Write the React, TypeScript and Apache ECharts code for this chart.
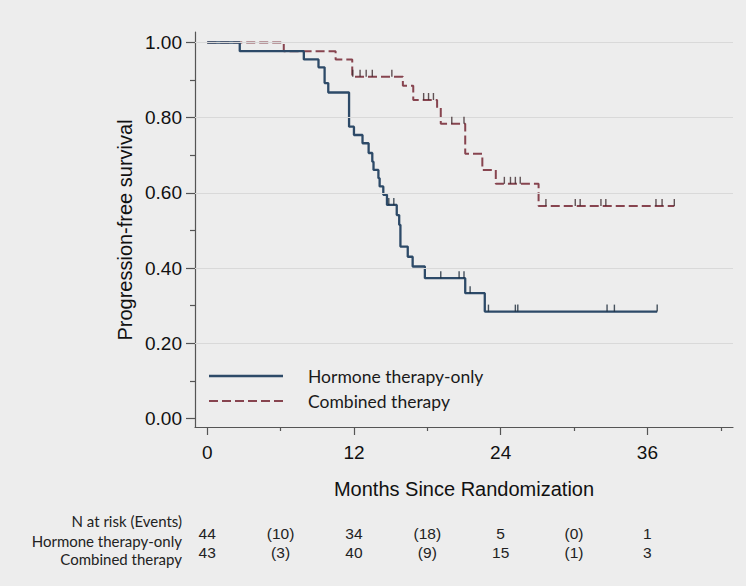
import React, { useEffect, useRef } from "react";
import * as echarts from "echarts";

// ---- data ----
const seriesNames = ["Hormone therapy-only", "Combined therapy"];

const hormoneTimes = [0, 2.66, 7.9, 9.1, 9.6, 9.9, 11.6, 12.0, 12.7, 13.2, 13.5, 13.6, 14.0, 14.1, 14.4, 14.7, 15.5, 15.7, 15.8, 16.4, 16.8, 17.8, 21.1, 22.7, 36.8];
const hormoneSurv = [1, 0.977, 0.955, 0.934, 0.892, 0.867, 0.776, 0.754, 0.732, 0.706, 0.683, 0.661, 0.639, 0.617, 0.595, 0.568, 0.541, 0.515, 0.457, 0.43, 0.404, 0.373, 0.333, 0.284, 0.284];
const hormoneCensor = [14.85, 15.26, 19.1, 20.6, 21.0, 21.5, 23.0, 25.2, 25.4, 32.7, 33.3, 36.8];

const combinedTimes = [0, 6.26, 10.5, 11.86, 16.0, 16.85, 18.8, 19.1, 21.1, 22.5, 23.6, 27.1, 38.2];
const combinedSurv = [1, 0.977, 0.955, 0.909, 0.885, 0.847, 0.826, 0.784, 0.704, 0.661, 0.624, 0.565, 0.565];
const combinedCensor = [11.9, 12.5, 13.0, 13.5, 15.1, 17.7, 18.1, 18.5, 20.0, 21.0, 24.3, 24.8, 25.2, 25.6, 27.7, 30.1, 30.5, 32.2, 32.6, 36.7, 37.2, 38.2];

const xMajorTicks = [0, 12, 24, 36];
const xMinorTicks = [6, 18, 30, 42];
const yMajorTicks = [0, 0.2, 0.4, 0.6, 0.8, 1.0];
const yMinorTicks = [0.1, 0.3, 0.5, 0.7, 0.9];
const gridValues = [0.2, 0.4, 0.6, 0.8, 1.0];

const xTitle = "Months Since Randomization";
const yTitle = "Progression-free survival";

const riskHeader = "N at risk (Events)";
const riskTimes = [0, 6, 12, 18, 24, 30, 36];
const hormoneRisk = ["44", "(10)", "34", "(18)", "5", "(0)", "1"];
const combinedRisk = ["43", "(3)", "40", "(9)", "15", "(1)", "3"];

// ---- styles ----
const BLUE = "#2d4a68";
const RED = "#87444f";
const AXIS = "#555555";
const SANS = "'Liberation Sans', Arial, sans-serif";
const CAL = "Lato, 'Open Sans', sans-serif";

function survAt(times: number[], surv: number[], t: number) {
  let s = surv[0];
  for (let i = 0; i < times.length; i++) {
    if (times[i] <= t) s = surv[i];
  }
  return s;
}

export default function App() {
  const ref = useRef<HTMLDivElement>(null);

  useEffect(() => {
    document.body.style.margin = "0";
    const chart = echarts.init(ref.current!, undefined, { renderer: "svg" });

    const hormoneData = hormoneTimes.map((t, i) => [t, hormoneSurv[i]]);
    const combinedData = combinedTimes.map((t, i) => [t, combinedSurv[i]]);
    const hormoneTicks = hormoneCensor.map((t) => [t, survAt(hormoneTimes, hormoneSurv, t)]);
    const combinedTicks = combinedCensor.map((t) => [t, survAt(combinedTimes, combinedSurv, t)]);

    const option: any = {
      animation: false,
      backgroundColor: "#ededed",
      grid: { left: 195, top: 32, width: 538, height: 395 },
      xAxis: [
        {
          type: "value",
          min: -1,
          max: 43,
          position: "bottom",
          axisLine: { show: true, onZero: false, lineStyle: { color: AXIS, width: 1.2 } },
          axisTick: { show: true, customValues: xMajorTicks, length: 8, lineStyle: { color: AXIS, width: 1.2 } },
          axisLabel: {
            customValues: xMajorTicks,
            margin: 16,
            fontSize: 19,
            color: "#111",
            fontFamily: SANS,
          },
          splitLine: { show: false },
        },
        {
          type: "value",
          min: -1,
          max: 43,
          position: "bottom",
          offset: 0,
          axisLine: { show: false, onZero: false },
          axisTick: { show: true, customValues: xMinorTicks, length: 4, lineStyle: { color: AXIS, width: 1.2 } },
          axisLabel: { show: false },
          splitLine: { show: false },
        },
      ],
      yAxis: [
        {
          type: "value",
          min: -0.023,
          max: 1.028,
          position: "left",
          axisLine: { show: true, onZero: false, lineStyle: { color: AXIS, width: 1.2 } },
          axisTick: { show: true, customValues: yMajorTicks, length: 9, lineStyle: { color: AXIS, width: 1.2 } },
          axisLabel: {
            customValues: yMajorTicks,
            margin: 13,
            fontSize: 19,
            color: "#111",
            fontFamily: SANS,
            formatter: (v: number) => v.toFixed(2),
          },
          splitLine: { show: false },
        },
        {
          type: "value",
          min: -0.023,
          max: 1.028,
          position: "left",
          offset: 0,
          axisLine: { show: false, onZero: false },
          axisTick: { show: true, customValues: yMinorTicks, length: 5, lineStyle: { color: AXIS, width: 1.2 } },
          axisLabel: { show: false },
          splitLine: { show: false },
        },
      ],
      series: [
        {
          type: "line",
          name: "gridlines",
          data: [],
          z: 1,
          silent: true,
          markLine: {
            silent: true,
            symbol: "none",
            label: { show: false },
            lineStyle: { color: "#d9d9d9", type: "solid", width: 1.2 },
            data: gridValues.map((v) => ({ yAxis: v })),
          },
        },
        {
          type: "line",
          name: seriesNames[1],
          step: "end",
          data: combinedData,
          showSymbol: false,
          symbol: "none",
          z: 3,
          lineStyle: { color: RED, width: 2, type: [9, 4] },
        },
        {
          type: "line",
          name: seriesNames[0],
          step: "end",
          data: hormoneData,
          showSymbol: false,
          symbol: "none",
          z: 4,
          lineStyle: { color: BLUE, width: 2.3 },
        },
        {
          type: "scatter",
          name: seriesNames[0] + " censored",
          data: hormoneTicks,
          symbol: "rect",
          symbolSize: [1.4, 7],
          symbolOffset: [0, -3.5],
          itemStyle: { color: "#1c2b3a" },
          z: 5,
          silent: true,
        },
        {
          type: "scatter",
          name: seriesNames[1] + " censored",
          data: combinedTicks,
          symbol: "rect",
          symbolSize: [1.4, 7],
          symbolOffset: [0, -3.5],
          itemStyle: { color: "#3d2b2e" },
          z: 5,
          silent: true,
        },
      ],
    };
    chart.setOption(option);

    const px = (t: number) => chart.convertToPixel({ xAxisIndex: 0 }, t) as number;

    const graphics: any[] = [
      {
        type: "text",
        x: 125,
        y: 230,
        rotation: Math.PI / 2,
        style: { text: yTitle, fontSize: 20, fontFamily: SANS, fill: "#111", textAlign: "center", textVerticalAlign: "middle" },
      },
      {
        type: "text",
        x: 464,
        y: 489,
        style: { text: xTitle, fontSize: 20, fontFamily: SANS, fill: "#111", textAlign: "center", textVerticalAlign: "middle" },
      },
      // legend
      { type: "line", shape: { x1: 209, y1: 376, x2: 283, y2: 376 }, style: { stroke: BLUE, lineWidth: 2.3 } },
      { type: "line", shape: { x1: 209, y1: 401, x2: 283, y2: 401 }, style: { stroke: RED, lineWidth: 2, lineDash: [9, 4] } },
      { type: "text", x: 308, y: 376, style: { text: seriesNames[0], fontSize: 17.5, fontFamily: CAL, fill: "#1a1a1a", textVerticalAlign: "middle" } },
      { type: "text", x: 308, y: 401, style: { text: seriesNames[1], fontSize: 17.5, fontFamily: CAL, fill: "#1a1a1a", textVerticalAlign: "middle" } },
      // risk table labels
      { type: "text", x: 182, y: 521, style: { text: riskHeader, fontSize: 15, fontFamily: CAL, fill: "#222", textAlign: "right", textVerticalAlign: "middle" } },
      { type: "text", x: 182, y: 541, style: { text: seriesNames[0], fontSize: 15, fontFamily: CAL, fill: "#222", textAlign: "right", textVerticalAlign: "middle" } },
      { type: "text", x: 182, y: 559, style: { text: seriesNames[1], fontSize: 15, fontFamily: CAL, fill: "#222", textAlign: "right", textVerticalAlign: "middle" } },
    ];
    riskTimes.forEach((t, i) => {
      graphics.push({
        type: "text",
        x: px(t),
        y: 533,
        style: { text: hormoneRisk[i], fontSize: 15.5, fontFamily: SANS, fill: "#222", textAlign: "center", textVerticalAlign: "middle" },
      });
      graphics.push({
        type: "text",
        x: px(t),
        y: 552,
        style: { text: combinedRisk[i], fontSize: 15.5, fontFamily: SANS, fill: "#222", textAlign: "center", textVerticalAlign: "middle" },
      });
    });
    chart.setOption({ graphic: graphics });

    return () => chart.dispose();
  }, []);

  return (
    <div
      ref={ref}
      style={{ position: "fixed", left: 0, top: 0, width: 746, height: 586 }}
    />
  );
}
